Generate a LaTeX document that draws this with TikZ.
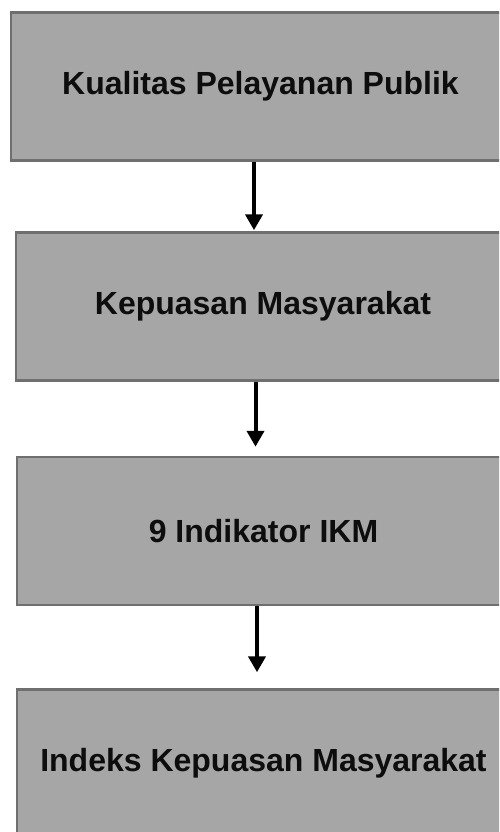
\documentclass[tikz,border=0pt]{standalone}
\usepackage{fontspec}
\setmainfont{Liberation Sans}
\usetikzlibrary{arrows.meta}
\definecolor{boxfill}{HTML}{A6A6A6}
\definecolor{boxline}{HTML}{6F6F6F}
\tikzstyle{box}=[rectangle, draw=boxline, fill=boxfill, line width=2.5pt, minimum height=148pt, inner sep=0pt, font=\fontsize{32}{38}\selectfont\bfseries, text=black!95]
\tikzstyle{arrow}=[-{Triangle[length=16pt,width=17pt]}, line width=4pt, black]

\begin{document}
\begin{tikzpicture}[x=1pt,y=-1pt]
  \useasboundingbox (0,0) rectangle (499,832);
  \clip (0,0) rectangle (499,832);

  %% Boxes
  \draw (260.5,86.5) node[box, minimum width=499pt] (B1) {Kualitas Pelayanan Publik};
  \draw (263,306.5) node[box, minimum width=494pt] (B2) {Kepuasan Masyarakat};
  \draw (263.5,531) node[box, minimum width=493pt] (B3) {9 Indikator IKM};
  \draw (263.5,763.5) node[box, minimum width=493pt] (B4) {Indeks Kepuasan Masyarakat};

  %% Arrows
  \draw[arrow, shorten >=1pt] ([xshift=-6.5pt]B1.south) -- ([xshift=-9pt]B2.north);
  \draw[arrow, shorten >=9pt] ([xshift=-7.5pt]B2.south) -- ([xshift=-8pt]B3.north);
  \draw[arrow, shorten >=16pt] ([xshift=-6.5pt]B3.south) -- ([xshift=-6.5pt]B4.north);
\end{tikzpicture}
\end{document}
